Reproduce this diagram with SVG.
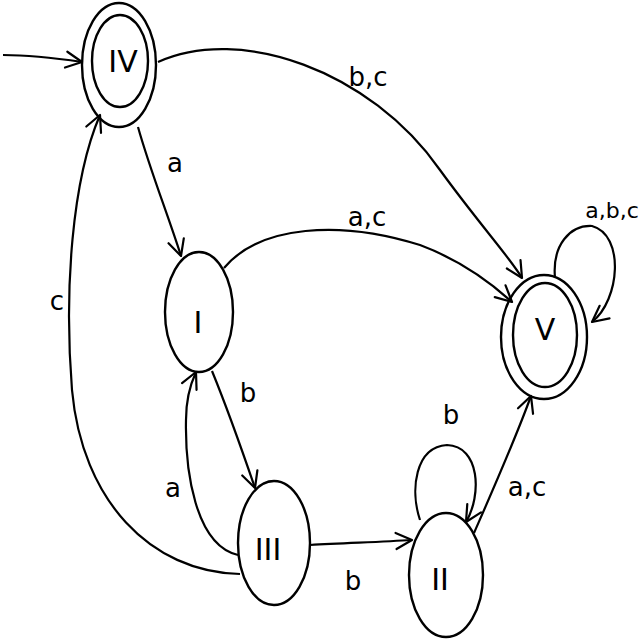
<svg xmlns="http://www.w3.org/2000/svg" width="640" height="640" viewBox="0 0 640 640">
<defs>
<marker id="arr" viewBox="0 0 20 20" refX="18" refY="10" markerWidth="20" markerHeight="20" markerUnits="userSpaceOnUse" orient="auto">
<path d="M2,2 L18,10 L2,18" fill="none" stroke="#000" stroke-width="2.2" stroke-linecap="round" stroke-linejoin="round"/>
</marker>
<style>
.st{fill:none;stroke:#000;stroke-width:2.4}
.ed{fill:none;stroke:#000;stroke-width:2.2;marker-end:url(#arr)}
.lb{font-family:"DejaVu Sans","Liberation Sans",sans-serif;font-size:26px;fill:#000;text-anchor:middle}
.nl{font-family:"DejaVu Sans","Liberation Sans",sans-serif;font-size:30px;fill:#000;text-anchor:middle}
</style>
</defs>
<rect width="640" height="640" fill="#fff"/>
<g id="connectors">
<path class="ed" d="M3,55 C30,55 55,58 82,62"/>
<path class="ed" d="M158,62 C240,25 370,70 440,170 C480,225 508,255 522,278"/>
<path class="ed" d="M138,127 C150,170 168,215 181,256"/>
<path class="ed" d="M224,268 C260,225 340,220 420,245 C460,260 490,282 512,302"/>
<path class="ed" d="M212,371 C228,410 242,450 255,488"/>
<path class="ed" d="M238,555 C195,545 185,470 186,420 C186,400 190,385 196,372"/>
<path class="ed" d="M240,574 C150,572 82,500 72,390 C64,290 72,180 100,115"/>
<path class="ed" d="M310,545 C345,543 380,542 412,540"/>
<path class="ed" d="M420,520 C410,490 415,447 447,445 C480,446 482,495 466,522"/>
<path class="ed" d="M474,533 C495,485 515,440 531,396"/>
<path class="ed" d="M555,278 C552,245 570,225 592,226 C625,235 620,300 592,322"/>
</g>
<g id="node-IV">
<ellipse class="st" cx="119" cy="65" rx="37" ry="62"/>
<ellipse class="st" cx="120" cy="61" rx="28" ry="46"/>
<text class="nl" x="123" y="72">IV</text>
</g>
<g id="node-V">
<ellipse class="st" cx="544" cy="337" rx="43" ry="62"/>
<ellipse class="st" cx="545" cy="335" rx="32" ry="52"/>
<text class="nl" x="545" y="340">V</text>
</g>
<g id="node-I">
<ellipse class="st" cx="199" cy="312" rx="34" ry="60"/>
<text class="nl" x="198" y="333">I</text>
</g>
<g id="node-III">
<ellipse class="st" cx="274" cy="543" rx="36" ry="62"/>
<text class="nl" x="268" y="560">III</text>
</g>
<g id="node-II">
<ellipse class="st" cx="446" cy="575" rx="37" ry="62"/>
<text class="nl" x="440" y="590">II</text>
</g>
<g id="labels">
<text class="lb" x="368" y="86">b,c</text>
<text class="lb" x="175" y="172">a</text>
<text class="lb" x="367" y="226">a,c</text>
<text class="lb" x="248" y="402">b</text>
<text class="lb" x="173" y="497">a</text>
<text class="lb" x="57" y="310">c</text>
<text class="lb" x="353" y="590">b</text>
<text class="lb" x="451" y="424">b</text>
<text class="lb" x="527" y="496">a,c</text>
<text class="lb" x="612" y="218" style="font-size:22px">a,b,c</text>
</g>
</svg>
